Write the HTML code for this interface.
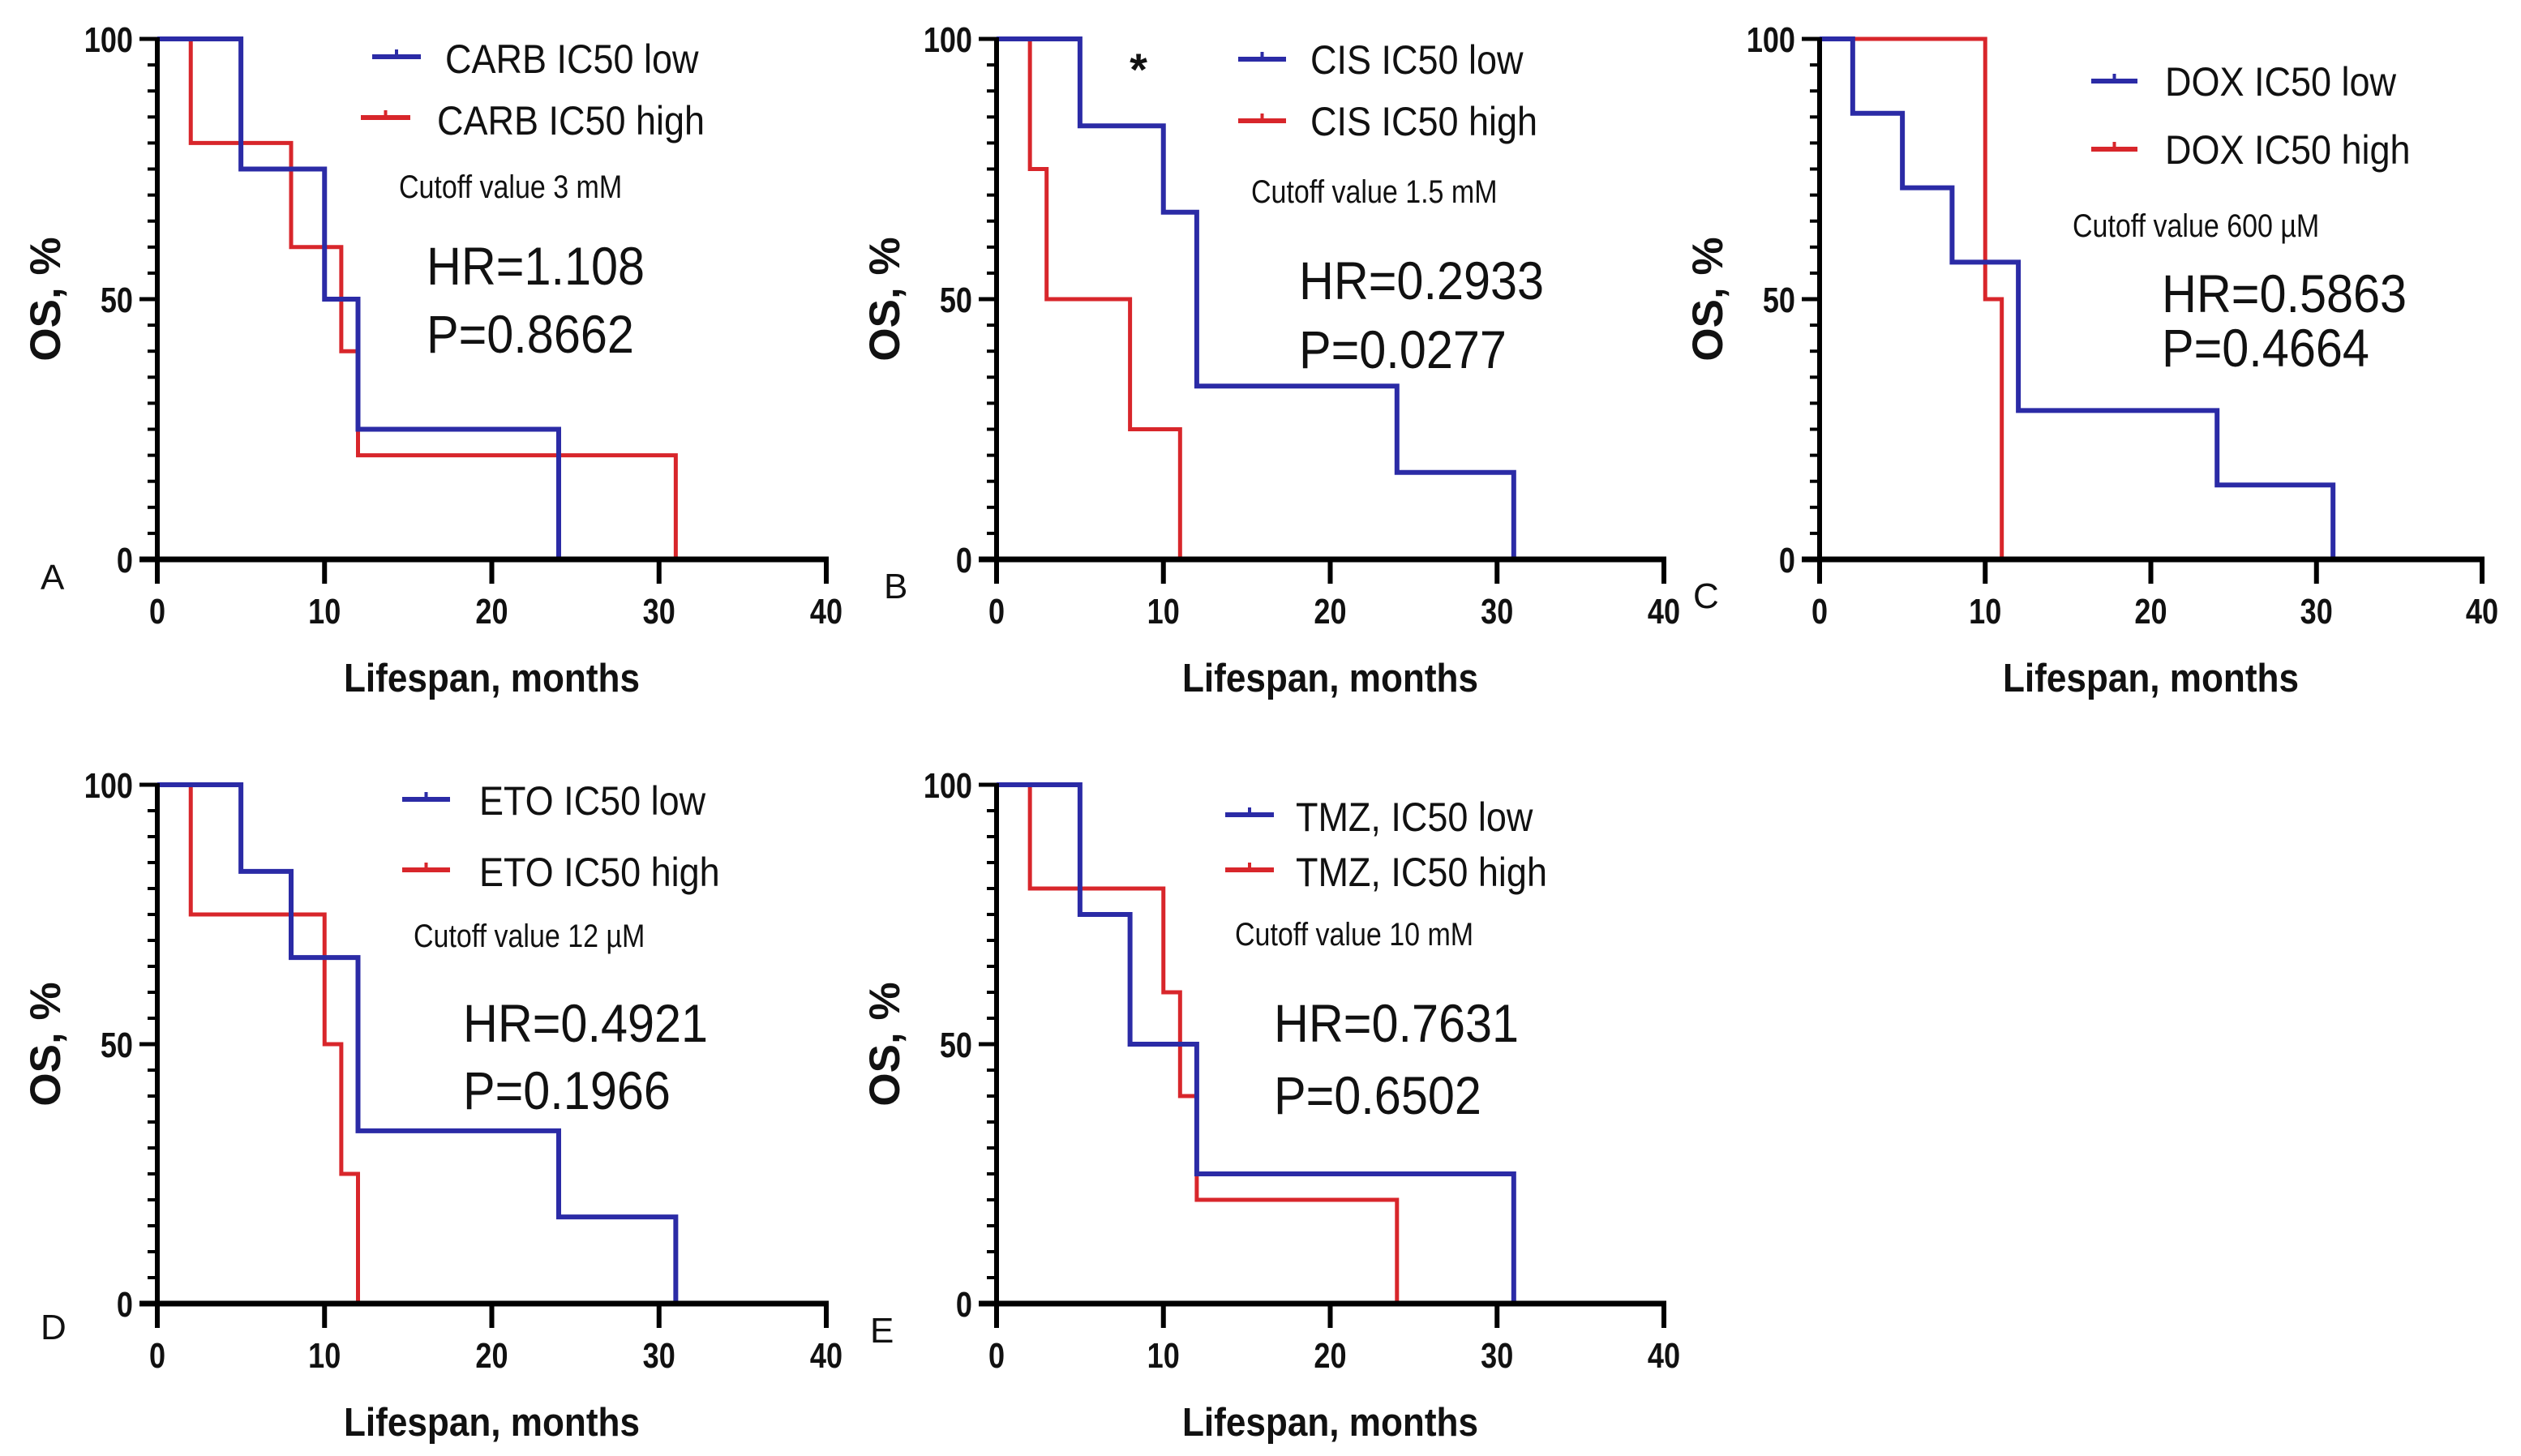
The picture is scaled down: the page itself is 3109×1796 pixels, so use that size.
<!DOCTYPE html>
<html><head><meta charset="utf-8">
<style>
html,body{margin:0;padding:0;background:#fff;}
svg{display:block;}
text{font-family:"Liberation Sans",sans-serif;}
</style></head>
<body>
<svg id="fig" width="3109" height="1796" viewBox="0 0 3109 1796" xmlns="http://www.w3.org/2000/svg"></svg>
<script>
// ---- data (times in months, survival in %) ----
const xTicks = [0, 10, 20, 30, 40];
const yTicks = [0, 50, 100];
const panelIds = ['A', 'B', 'C', 'D', 'E'];
const lowTimesA = [0, 5, 10, 12, 24];      const lowSurvA = [100, 75, 50, 25, 0];
const highTimesA = [0, 2, 8, 11, 12, 31];  const highSurvA = [100, 80, 60, 40, 20, 0];
const lowTimesB = [0, 5, 10, 12, 24, 31];  const lowSurvB = [100, 83.3, 66.7, 33.3, 16.7, 0];
const highTimesB = [0, 2, 3, 8, 11];       const highSurvB = [100, 75, 50, 25, 0];
const lowTimesC = [0, 2, 5, 8, 12, 24, 31]; const lowSurvC = [100, 85.7, 71.4, 57.1, 28.6, 14.3, 0];
const highTimesC = [0, 10, 11];            const highSurvC = [100, 50, 0];
const lowTimesD = [0, 5, 8, 12, 24, 31];   const lowSurvD = [100, 83.3, 66.7, 33.3, 16.7, 0];
const highTimesD = [0, 2, 10, 11, 12];     const highSurvD = [100, 75, 50, 25, 0];
const lowTimesE = [0, 5, 8, 12, 31];       const lowSurvE = [100, 75, 50, 25, 0];
const highTimesE = [0, 2, 10, 11, 12, 24]; const highSurvE = [100, 80, 60, 40, 20, 0];
const lowLabels = ['CARB IC50 low', 'CIS IC50 low', 'DOX IC50 low', 'ETO IC50 low', 'TMZ, IC50 low'];
const highLabels = ['CARB IC50 high', 'CIS IC50 high', 'DOX IC50 high', 'ETO IC50 high', 'TMZ, IC50 high'];
const cutoffLabels = ['Cutoff value 3 mM', 'Cutoff value 1.5 mM', 'Cutoff value 600 \u00B5M', 'Cutoff value 12 \u00B5M', 'Cutoff value 10 mM'];
const hrLabels = ['HR=1.108', 'HR=0.2933', 'HR=0.5863', 'HR=0.4921', 'HR=0.7631'];
const pLabels = ['P=0.8662', 'P=0.0277', 'P=0.4664', 'P=0.1966', 'P=0.6502'];

const lows = [[lowTimesA, lowSurvA], [lowTimesB, lowSurvB], [lowTimesC, lowSurvC], [lowTimesD, lowSurvD], [lowTimesE, lowSurvE]];
const highs = [[highTimesA, highSurvA], [highTimesB, highSurvB], [highTimesC, highSurvC], [highTimesD, highSurvD], [highTimesE, highSurvE]];

// layout
const frames = [
  {x0:194, x1:1019, y0:690, y1:48},
  {x0:1229, x1:2052, y0:690, y1:48},
  {x0:2244, x1:3061, y0:690, y1:48},
  {x0:194, x1:1019, y0:1608, y1:968},
  {x0:1229, x1:2052, y0:1608, y1:968}
];
const annot = [
  {l1:[459,519,70], t1:[549,90], l2:[445,506,145], t2:[539,166], cut:[492,244], hr:[526,351], p:[526,435], let:[50,727]},
  {l1:[1527,1586,73], t1:[1616,91], l2:[1527,1586,149], t2:[1616,167], cut:[1543,250], hr:[1602,369], p:[1602,454], let:[1090,738]},
  {l1:[2579,2636,100], t1:[2670,118], l2:[2579,2636,184], t2:[2670,202], cut:[2556,292], hr:[2666,385], p:[2666,452], let:[2088,750]},
  {l1:[496,555,986], t1:[591,1005], l2:[496,555,1073], t2:[591,1093], cut:[510,1168], hr:[571,1285], p:[571,1368], let:[50,1652]},
  {l1:[1511,1571,1005], t1:[1598,1025], l2:[1511,1571,1073], t2:[1598,1093], cut:[1523,1166], hr:[1571,1285], p:[1571,1374], let:[1073,1656]}
];
const BLUE = '#2b2ba6', RED = '#d8262b';
const NS = 'http://www.w3.org/2000/svg';
const svg = document.getElementById('fig');

function mk(tag, attrs, parent){
  const e = document.createElementNS(NS, tag);
  for (const k in attrs) e.setAttribute(k, attrs[k]);
  (parent || svg).appendChild(e);
  return e;
}
function txt(s, x, y, size, weight, anchor, parent, sx){
  const t = mk('text', {x:x, y:y, 'font-size':size, 'font-weight':weight || 'normal', 'text-anchor':anchor || 'start', fill:'#111'}, parent);
  if (sx) t.setAttribute('transform', `translate(${x} ${y}) scale(${sx} 1) translate(${-x} ${-y})`);
  t.textContent = s;
  return t;
}

panelIds.forEach((id, i) => {
  const f = frames[i], a = annot[i];
  const g = mk('g', {});
  
  
  const sx = v => f.x0 + (f.x1 - f.x0) * v / 40;
  const sy = v => f.y0 - (f.y0 - f.y1) * v / 100;

  function curve(times, surv, color, w, name){
    let d = `M${sx(times[0])},${sy(surv[0])}`;
    for (let k = 1; k < times.length; k++) {
      d += ` H${sx(times[k])} V${sy(surv[k])}`;
    }
    const p = mk('path', {d:d, fill:'none', stroke:color, 'stroke-width':w, 'stroke-linejoin':'miter'}, g);
    
    
  }
  curve(highs[i][0], highs[i][1], RED, 5, 'curve-ic50-high');
  curve(lows[i][0], lows[i][1], BLUE, 6, 'curve-ic50-low');

  // axes
  const yAx = mk('line', {x1:f.x0, y1:f.y1 - 2, x2:f.x0, y2:f.y0 + 3, stroke:'#000', 'stroke-width':6}, g);
  
  
  const xAx = mk('line', {x1:f.x0 - 22, y1:f.y0, x2:f.x1 + 3, y2:f.y0, stroke:'#000', 'stroke-width':7}, g);
  
  
  for (let v = 0; v <= 100; v += 5) {
    const major = v % 50 === 0;
    mk('line', {x1:f.x0 - (major ? 22 : 12), y1:sy(v), x2:f.x0, y2:sy(v), stroke:'#000', 'stroke-width':major ? 5 : 4}, g);
  }
  yTicks.forEach(v => {
    const t = txt(String(v), f.x0 - 30, sy(v) + 16, 44, 'bold', 'end', g, 0.82);
    
    
  });
  xTicks.forEach(v => {
    mk('line', {x1:sx(v), y1:f.y0, x2:sx(v), y2:f.y0 + 30, stroke:'#000', 'stroke-width':6}, g);
    const t = txt(String(v), sx(v), f.y0 + 79, 44, 'bold', 'middle', g, 0.82);
    
    
  });
  const xt = txt('Lifespan, months', (f.x0 + f.x1) / 2, f.y0 + 163, 49, 'bold', 'middle', g, 0.9);
  
  
  const ycx = f.x0 - 120, ycy = (f.y0 + f.y1) / 2;
  const yt = mk('text', {x:ycx, y:ycy, 'font-size':53, 'font-weight':'bold', 'text-anchor':'middle', fill:'#111', transform:`rotate(-90 ${ycx} ${ycy})`}, g);
  yt.textContent = 'OS, %';
  
  

  // legend
  const l1 = mk('line', {x1:a.l1[0], y1:a.l1[2], x2:a.l1[1], y2:a.l1[2], stroke:BLUE, 'stroke-width':6}, g);
  
  
  mk('line', {x1:(a.l1[0]+a.l1[1])/2, y1:a.l1[2]-9, x2:(a.l1[0]+a.l1[1])/2, y2:a.l1[2], stroke:BLUE, 'stroke-width':4}, g);
  const t1 = txt(lowLabels[i], a.t1[0], a.t1[1], 50, 'normal', 'start', g, 0.9);
  
  
  const l2 = mk('line', {x1:a.l2[0], y1:a.l2[2], x2:a.l2[1], y2:a.l2[2], stroke:RED, 'stroke-width':6}, g);
  
  
  mk('line', {x1:(a.l2[0]+a.l2[1])/2, y1:a.l2[2]-9, x2:(a.l2[0]+a.l2[1])/2, y2:a.l2[2], stroke:RED, 'stroke-width':4}, g);
  const t2 = txt(highLabels[i], a.t2[0], a.t2[1], 50, 'normal', 'start', g, 0.9);
  
  

  const c = txt(cutoffLabels[i], a.cut[0], a.cut[1], 40, 'normal', 'start', g, 0.85);
  
  
  const hr = txt(hrLabels[i], a.hr[0], a.hr[1], 66, 'normal', 'start', g, 0.9);
  
  
  const p = txt(pLabels[i], a.p[0], a.p[1], 66, 'normal', 'start', g, 0.9);
  
  
  const L = txt(id, a.let[0], a.let[1], 44, 'normal', 'start', g);
  
  
});
const star = txt('*', 1404, 105, 56, 'bold', 'middle');


</script>
</body></html>
